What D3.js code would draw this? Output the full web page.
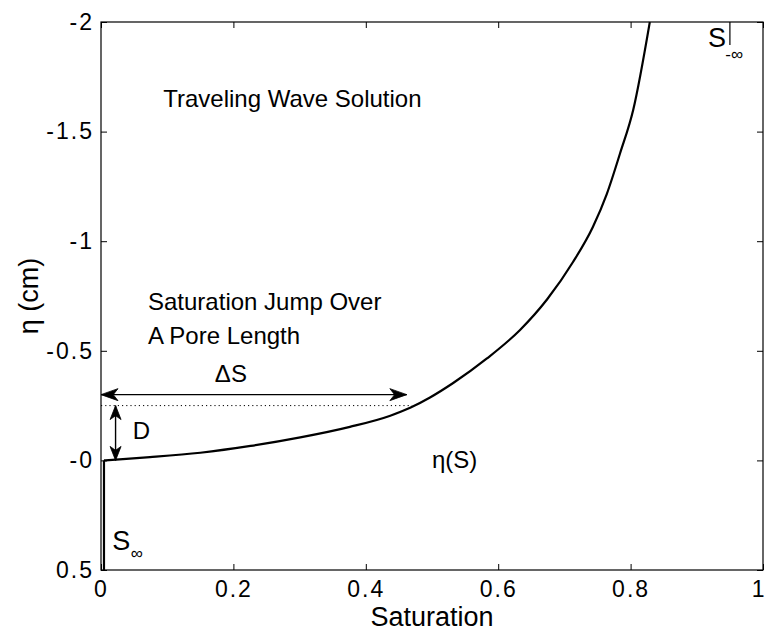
<!DOCTYPE html>
<html>
<head>
<meta charset="utf-8">
<script src="https://cdn.jsdelivr.net/npm/d3@7"></script>
<style>
  html, body { margin: 0; padding: 0; background: #fff; }
  svg { display: block; font-family: "Liberation Sans", Arial, sans-serif; }
</style>
</head>
<body>
<svg id="chart" width="765" height="632"></svg>
<script>
// Traveling wave profile eta(S): saturation vs. position (cm)
const saturation = [0.0045, 0.0045, 0.033, 0.074, 0.150, 0.226, 0.301, 0.376, 0.437, 0.467,
                    0.497, 0.532, 0.583, 0.633, 0.674, 0.713, 0.743, 0.764, 0.784, 0.804, 0.829];
const eta = [0.5, 0.0, -0.006, -0.015, -0.035, -0.066, -0.105, -0.153, -0.204, -0.240,
             -0.287, -0.353, -0.465, -0.595, -0.735, -0.905, -1.065, -1.215, -1.400, -1.600, -2.0];

// Axis ticks
const xTicks = [0, 0.2, 0.4, 0.6, 0.8, 1];
const xTickLabels = ["0", "0.2", "0.4", "0.6", "0.8", "1"];
const yTicks = [-2, -1.5, -1, -0.5, 0, 0.5];
const yTickLabels = ["-2", "-1.5", "-1", "-0.5", "-0", "0.5"];

// Annotation values: pore length D and the saturation jump across it
const poreLength = [0, -0.25];        // eta range of the D arrow
const jumpSpan = [0, 0.462];          // saturation range of the ΔS arrow
const jumpLevel = -0.3;               // eta level of the ΔS arrow
const dottedSpan = [0, 0.47];         // dotted reference line at eta = -0.25
const dArrowS = 0.022;                // saturation where the D arrow sits

const svg = d3.select("#chart");
const x = d3.scaleLinear().domain([0, 1]).range([101, 763]);
const y = d3.scaleLinear().domain([-2, 0.5]).range([22, 570]);

// Frame
svg.append("rect")
  .attr("x", x(0)).attr("y", y(-2))
  .attr("width", x(1) - x(0)).attr("height", y(0.5) - y(-2))
  .attr("fill", "none").attr("stroke", "#000").attr("stroke-width", 1.2);

const tickFont = g => g.selectAll("text")
  .attr("font-family", "Liberation Sans, Arial, sans-serif")
  .attr("font-size", 23).attr("letter-spacing", 2).attr("fill", "#000");

// Bottom axis with labels, inward ticks
const xAxis = svg.append("g").attr("transform", `translate(0,${y(0.5)})`)
  .call(d3.axisBottom(x).tickValues(xTicks)
    .tickFormat((d, i) => xTickLabels[i]).tickSizeInner(-6).tickSizeOuter(0).tickPadding(11))
  .call(g => g.select(".domain").remove())
  .call(tickFont);
xAxis.selectAll("line").attr("stroke", "#000");
// the last label sits against the right edge of the figure
xAxis.selectAll(".tick").filter(d => d === 1).select("text")
  .attr("text-anchor", "end").attr("letter-spacing", 0).attr("dx", 1);

// Top axis, ticks only
svg.append("g").attr("transform", `translate(0,${y(-2)})`)
  .call(d3.axisTop(x).tickValues(xTicks).tickFormat("").tickSizeInner(-6).tickSizeOuter(0))
  .call(g => g.select(".domain").remove())
  .selectAll("line").attr("stroke", "#000");

// Left axis with labels, inward ticks
const yAxis = svg.append("g").attr("transform", `translate(${x(0)},0)`)
  .call(d3.axisLeft(y).tickValues(yTicks)
    .tickFormat((d, i) => yTickLabels[i]).tickSizeInner(-6).tickSizeOuter(0).tickPadding(7))
  .call(g => g.select(".domain").remove())
  .call(tickFont);
yAxis.selectAll("line").attr("stroke", "#000");

// Right axis, ticks only
svg.append("g").attr("transform", `translate(${x(1)},0)`)
  .call(d3.axisRight(y).tickValues(yTicks).tickFormat("").tickSizeInner(-6).tickSizeOuter(0))
  .call(g => g.select(".domain").remove())
  .selectAll("line").attr("stroke", "#000");

// Axis titles
svg.append("text")
  .attr("x", (x(0) + x(1)) / 2).attr("y", 626)
  .attr("text-anchor", "middle").attr("font-size", 27).text("Saturation");
svg.append("text")
  .attr("transform", `translate(38,${(y(-2) + y(0.5)) / 2}) rotate(-90)`)
  .attr("text-anchor", "middle").attr("font-size", 27).text("η (cm)");

// Profile: vertical front at the far field, then the smooth rising branch
const pts = saturation.map((s, i) => [s, eta[i]]);
svg.append("path")
  .datum(pts.slice(0, 2))
  .attr("d", d3.line().x(d => x(d[0])).y(d => y(d[1])))
  .attr("fill", "none").attr("stroke", "#000").attr("stroke-width", 2.2);
svg.append("path")
  .datum(pts.slice(1))
  .attr("d", d3.line().x(d => x(d[0])).y(d => y(d[1])).curve(d3.curveMonotoneX))
  .attr("fill", "none").attr("stroke", "#000").attr("stroke-width", 2.2);

// Dotted reference line at the top of the pore length
svg.append("line")
  .attr("x1", x(dottedSpan[0])).attr("x2", x(dottedSpan[1]))
  .attr("y1", y(poreLength[1])).attr("y2", y(poreLength[1]))
  .attr("stroke", "#000").attr("stroke-width", 1).attr("stroke-dasharray", "1.2,3");

// Arrowhead: tip point, direction angle, length, half width
function arrowHead(tx, ty, ang, len, hw) {
  const c = Math.cos(ang), s = Math.sin(ang);
  const bx = tx - c * len, by = ty - s * len;
  const nx = tx - c * len * 0.72, ny = ty - s * len * 0.72;
  const p = [[tx, ty], [bx - s * hw, by + c * hw], [nx, ny], [bx + s * hw, by - c * hw]];
  svg.append("path").attr("d", "M" + p.map(q => q.join(",")).join("L") + "Z")
    .attr("fill", "#000").attr("stroke", "#000").attr("stroke-width", 0.8);
}

// ΔS double arrow
svg.append("line")
  .attr("x1", x(jumpSpan[0])).attr("x2", x(jumpSpan[1]))
  .attr("y1", y(jumpLevel)).attr("y2", y(jumpLevel))
  .attr("stroke", "#000").attr("stroke-width", 1.4);
arrowHead(x(jumpSpan[0]), y(jumpLevel), Math.PI, 17, 6);
arrowHead(x(jumpSpan[1]), y(jumpLevel), 0, 17, 6);

// D double arrow
svg.append("line")
  .attr("x1", x(dArrowS)).attr("x2", x(dArrowS))
  .attr("y1", y(poreLength[0])).attr("y2", y(poreLength[1]))
  .attr("stroke", "#000").attr("stroke-width", 1.4);
arrowHead(x(dArrowS), y(poreLength[1]), -Math.PI / 2, 14, 5.5);
arrowHead(x(dArrowS), y(poreLength[0]), Math.PI / 2, 14, 5.5);

// Text annotations
const note = (s, e, txt, size) => svg.append("text")
  .attr("x", x(s)).attr("y", y(e)).attr("font-size", size).attr("fill", "#000").text(txt);
note(0.094, -1.612, "Traveling Wave Solution", 24);
note(0.071, -0.686, "Saturation Jump Over", 24);
note(0.071, -0.531, "A Pore Length", 24);
note(0.172, -0.358, "ΔS", 24);
note(0.048, -0.098, "D", 24);
note(0.50, 0.035, "η(S)", 24);

// S at the two far fields
note(0.017, 0.409, "S", 27);
note(0.045, 0.450, "∞", 17);
note(0.917, -1.886, "S", 27);
note(0.943, -1.826, "-∞", 17);
svg.append("line")
  .attr("x1", x(0.950)).attr("x2", x(0.950))
  .attr("y1", y(-2)).attr("y2", y(-1.895))
  .attr("stroke", "#000").attr("stroke-width", 1.2);
</script>
</body>
</html>
